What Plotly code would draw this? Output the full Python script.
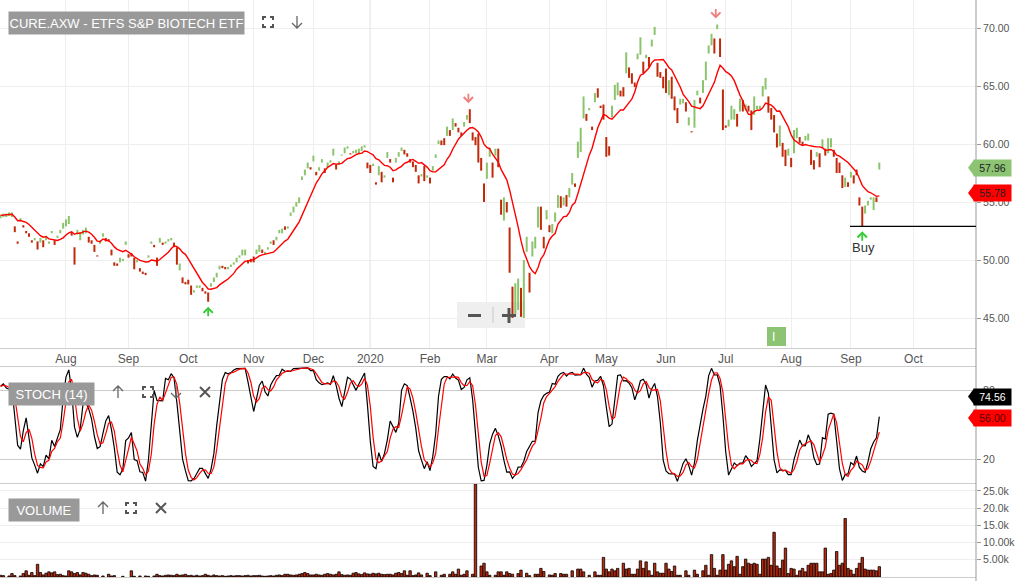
import pandas as pd
import plotly.graph_objects as go

# ---------------- calendar / axis labels ----------------
asx_holidays = ["2019-12-25", "2019-12-26", "2020-01-01", "2020-01-27",
                "2020-04-10", "2020-04-13", "2020-06-08"]
cal_start, cal_end = "2019-07-01", "2020-10-30"
tick_months = ["2019-08", "2019-09", "2019-10", "2019-11", "2019-12", "2020-01", "2020-02",
               "2020-03", "2020-04", "2020-05", "2020-06", "2020-07", "2020-08", "2020-09", "2020-10"]
tick_labels = ["Aug", "Sep", "Oct", "Nov", "Dec", "2020", "Feb", "Mar", "Apr", "May",
               "Jun", "Jul", "Aug", "Sep", "Oct"]

# ---------------- daily bars (one line per month) ----------------
lows = [
    53.6, 53.7, 53.7, 53.8, 53.7, 52.4, 51.4, 53.4, 52.8, 52.3, 52.0, 51.5, 51.7, 50.9, 51.5, 51.1, 51.7, 51.4, 52.3, 51.3, 51.9, 52.3, 52.7,
    52.9, 53.1, 52.1, 49.6, 52.2, 51.7, 52.2, 52.3, 51.5, 51.4, 50.7, 50.3, 51.4, 52.0, 51.6, 51.6, 50.4, 49.5, 49.5, 49.8, 49.9, 51.3,
    50.2, 50.3, 49.2, 49.8, 49.0, 48.8, 48.7, 50.2, 51.4, 51.1, 49.5, 51.5, 51.3, 51.4, 51.6, 51.7, 51.1, 49.6, 49.1, 48.0, 47.9,
    47.9, 47.0, 47.2, 47.6, 47.6, 47.3, 47.1, 46.4, 47.7, 48.1, 48.5, 49.2, 49.3, 49.2, 49.2, 49.4, 49.6, 49.8, 50.2, 50.4, 50.4, 49.7, 49.8,
    49.8, 50.5, 50.7, 50.6, 50.5, 50.9, 51.4, 51.3, 51.7, 52.3, 52.3, 52.6, 52.7, 53.8, 54.1, 54.6, 54.9, 56.9, 57.3, 57.9, 57.8,
    58.5, 57.3, 57.7, 58.4, 57.5, 58.0, 58.4, 59.0, 57.8, 58.2, 59.0, 59.2, 59.6, 59.1, 59.2, 59.2, 59.2, 59.4, 59.7, 57.9,
    57.5, 58.1, 56.5, 57.3, 56.7, 57.1, 58.8, 58.4, 56.7, 58.4, 58.9, 59.4, 59.1, 58.9, 58.4, 58.0, 57.6, 56.6, 57.2, 56.8, 57.1,
    56.6, 57.7, 58.8, 60.0, 59.9, 59.9, 60.7, 60.7, 61.2, 61.5, 61.0, 60.7, 61.5, 62.1, 61.8, 60.3, 59.9, 58.4, 57.7, 55.0,
    57.0, 58.9, 57.1, 59.0, 58.0, 53.9, 53.4, 54.1, 48.9, 45.0, 45.3, 45.7, 45.1, 45.0, 50.7, 47.2, 50.3, 51.0, 52.8, 52.6, 51.0, 53.5,
    52.4, 52.3, 53.3, 54.5, 54.5, 54.7, 54.6, 55.4, 56.5, 56.3, 58.8, 59.3, 62.2, 62.0, 62.9, 61.2, 63.6, 64.0, 63.1, 62.1,
    58.9, 59.0, 62.3, 63.8, 64.2, 64.1, 64.1, 66.1, 65.7, 65.2, 64.9, 67.3, 67.7, 66.1, 67.4, 66.6, 68.4, 69.4, 65.8, 65.7, 64.8,
    64.4, 64.2, 63.9, 62.9, 61.8, 63.4, 63.5, 62.8, 61.6, 61.0, 61.4, 64.2, 63.5, 64.4, 65.5, 67.8, 68.5, 67.8, 69.9, 67.5, 61.2,
    61.4, 61.5, 62.1, 62.1, 61.5, 62.8, 62.8, 62.9, 62.8, 61.2, 62.5, 63.0, 63.0, 64.1, 64.7, 62.7, 62.1, 61.0, 59.7, 59.8, 58.9, 58.1, 59.0,
    58.0, 59.2, 60.5, 60.1, 59.9, 60.3, 60.3, 58.2, 57.8, 58.9, 58.0, 59.7, 59.0, 59.2, 59.7, 58.9, 57.5, 57.5, 56.2, 56.3, 56.3,
    57.1, 56.6, 57.3, 54.7, 52.9, 54.0, 54.7, 55.2, 54.3, 55.0, 57.8,
]
highs = [
    53.9, 54.0, 54.0, 54.1, 54.1, 52.9, 51.6, 53.6, 53.0, 52.5, 52.3, 51.7, 51.9, 51.6, 51.9, 51.7, 52.0, 51.6, 52.5, 51.7, 52.1, 52.6, 53.2,
    53.5, 53.8, 52.4, 51.1, 52.6, 52.4, 52.6, 52.8, 52.0, 51.7, 51.3, 50.4, 51.7, 52.3, 51.9, 51.8, 50.9, 49.8, 49.7, 50.2, 50.1, 51.6,
    50.5, 50.6, 50.2, 50.0, 49.3, 49.0, 48.9, 50.4, 51.6, 51.3, 50.2, 51.9, 51.5, 51.6, 51.8, 51.9, 51.5, 51.1, 49.7, 48.5, 48.1,
    48.3, 47.8, 47.4, 47.8, 47.8, 47.6, 47.3, 47.2, 48.0, 48.5, 48.9, 49.5, 49.5, 49.4, 49.4, 49.6, 49.8, 50.2, 50.4, 50.9, 50.9, 50.0, 50.1,
    50.3, 50.9, 51.3, 50.9, 50.7, 51.1, 51.6, 51.7, 52.0, 52.6, 52.7, 52.9, 52.9, 54.1, 54.6, 55.0, 55.4, 57.2, 57.8, 58.4, 58.0,
    59.0, 57.6, 58.0, 58.7, 57.9, 58.4, 58.6, 59.6, 58.2, 58.5, 59.1, 59.7, 59.8, 59.2, 59.4, 59.5, 59.6, 59.8, 59.9, 58.4,
    58.2, 58.3, 56.7, 58.1, 57.6, 57.3, 59.3, 58.7, 57.1, 58.8, 59.3, 59.7, 59.5, 59.2, 58.7, 58.5, 58.2, 57.3, 57.4, 58.1, 57.3,
    57.1, 58.1, 59.1, 60.3, 60.3, 60.5, 61.5, 61.2, 62.2, 61.8, 61.4, 61.0, 61.9, 62.5, 63.0, 61.0, 60.6, 60.9, 58.8, 56.6,
    58.4, 59.7, 58.4, 59.6, 59.6, 55.2, 55.4, 55.0, 52.8, 47.7, 48.0, 48.4, 47.6, 50.0, 52.0, 48.9, 51.6, 52.0, 54.6, 54.6, 52.0, 54.3,
    53.0, 53.1, 54.1, 55.6, 55.5, 55.4, 55.6, 56.2, 57.5, 56.6, 60.2, 61.4, 64.1, 62.6, 63.1, 61.5, 64.4, 64.8, 63.3, 63.4,
    60.6, 59.8, 63.3, 65.1, 65.3, 64.6, 64.9, 67.9, 66.6, 66.1, 65.3, 67.8, 69.2, 67.1, 67.7, 67.5, 69.0, 70.1, 67.0, 66.2, 65.8,
    66.5, 65.5, 65.8, 64.1, 63.1, 63.9, 63.9, 63.6, 62.3, 61.1, 63.8, 64.6, 64.0, 65.5, 67.1, 68.5, 69.5, 69.1, 70.3, 69.1, 64.7,
    61.6, 62.1, 63.3, 63.0, 62.6, 63.9, 63.8, 63.4, 63.3, 62.9, 64.1, 63.3, 63.3, 65.0, 65.7, 64.1, 63.1, 62.5, 60.9, 61.6, 60.1, 59.5, 59.6,
    58.8, 61.2, 61.4, 60.6, 60.2, 60.7, 60.9, 59.5, 58.6, 59.3, 59.2, 60.4, 59.6, 60.5, 60.5, 59.5, 58.8, 58.4, 57.3, 57.1, 56.7,
    57.6, 57.3, 57.8, 55.4, 54.6, 54.7, 55.1, 55.4, 55.4, 55.4, 58.4,
]
closes = [
    53.85, 53.95, 53.9, 54.0, 54.05, 52.5, 51.45, 53.55, 52.85, 52.35, 52.05, 51.55, 51.85, 51.0, 51.85, 51.2, 51.95, 51.55, 52.45, 51.35, 52.05, 52.55, 53.15,
    53.45, 53.7, 52.15, 49.8, 52.55, 52.3, 52.55, 52.7, 51.6, 51.45, 50.8, 50.3, 51.65, 52.25, 51.65, 51.6, 50.45, 49.55, 49.5, 50.15, 50.05, 51.55,
    50.25, 50.35, 49.3, 49.95, 49.05, 48.85, 48.75, 50.35, 51.55, 51.15, 49.6, 51.85, 51.35, 51.55, 51.75, 51.85, 51.2, 49.7, 49.6, 48.1, 47.95,
    48.0, 47.1, 47.35, 47.75, 47.75, 47.35, 47.15, 46.5, 47.95, 48.45, 48.85, 49.45, 49.35, 49.25, 49.35, 49.55, 49.75, 50.15, 50.35, 50.85, 50.85, 49.75, 49.85,
    49.9, 50.85, 51.25, 50.65, 50.65, 51.05, 51.55, 51.35, 51.95, 52.55, 52.65, 52.65, 52.85, 54.05, 54.55, 54.95, 55.35, 57.15, 57.75, 58.35, 57.85,
    58.95, 57.35, 57.95, 58.65, 57.55, 58.35, 58.55, 59.55, 57.85, 58.45, 59.08, 59.65, 59.75, 59.12, 59.35, 59.45, 59.55, 59.75, 59.85, 57.95,
    57.6, 58.25, 56.55, 58.05, 56.8, 57.25, 59.25, 58.45, 56.75, 58.75, 59.25, 59.65, 59.15, 58.95, 58.45, 58.05, 57.65, 56.7, 57.35, 56.9, 57.25,
    56.65, 58.05, 59.05, 60.25, 59.95, 59.95, 61.45, 60.75, 62.1, 61.55, 61.05, 60.75, 61.85, 62.45, 61.9, 60.35, 59.95, 58.5, 57.8, 55.2,
    58.3, 59.6, 57.2, 59.5, 58.1, 54.0, 55.2, 54.2, 49.1, 45.3, 47.8, 48.2, 45.3, 49.8, 51.9, 47.4, 51.5, 51.9, 54.4, 52.8, 51.1, 54.2,
    52.5, 53.0, 54.0, 55.5, 54.6, 55.3, 54.7, 56.1, 57.4, 56.35, 60.1, 61.3, 64.0, 62.1, 63.05, 61.25, 64.3, 64.1, 63.15, 62.2,
    59.0, 59.1, 63.2, 65.0, 65.2, 64.2, 64.2, 67.8, 65.8, 65.3, 64.95, 67.75, 69.1, 66.2, 67.65, 66.7, 68.95, 70.0, 65.9, 65.75, 64.9,
    64.5, 65.4, 64.0, 63.0, 61.9, 63.85, 63.85, 62.9, 62.2, 61.0, 63.7, 64.55, 63.55, 65.4, 67.0, 68.45, 69.4, 67.9, 70.25, 67.6, 61.4,
    61.45, 62.05, 63.2, 62.9, 61.6, 63.8, 62.9, 63.35, 62.85, 61.3, 64.0, 63.25, 63.2, 64.95, 65.6, 62.8, 62.2, 61.1, 59.8, 61.5, 59.0, 58.2, 59.55,
    58.1, 61.1, 61.3, 60.15, 59.95, 60.65, 60.85, 58.3, 57.9, 59.25, 58.1, 60.35, 59.05, 60.4, 60.45, 58.95, 57.6, 57.55, 56.3, 57.05, 56.35,
    57.55, 56.7, 57.35, 54.8, 53.1, 54.65, 55.05, 55.35, 55.3, 55.05, 57.96,
]
bar_dirs = ("GGGGGRRGRRRRGRGRGGGRGGG" "GGRRGGGGRRRRGGRRRRRGGG" "RRRGRRRGGRRGRGGGRRGRR"
            "RRGGGRRRGGGGRRGGGGGGGRR" "RGGRGGGRGGGRGGGGGGGGR" "GRGGRGGGRGGGGRGGGGGR"
            "RGRGRGGRRGGGRRRRRRGRG" "RGGGRRGRGRRRGGRRRRRR" "GGRGRRGRRRGGRGGRGGGRRG"
            "RGGGRGRGGRGGGRGRGRRR" "RRGGGRRGRRRGGRGRGGRRR" "RGRRRGGRGRGGRGGGGRGRR"
            "RGGGRGRGRRGGGGGRRRRGRRG" "RGGRRGGRRGRGRGGRRRRGR" "GRRRRGGGGRG")
volume_k = [
    0.5, 0.4, 0, 0.3, 1.0, 0.4, 0, 0.3, 1.0, 1.8, 0.5, 1.3, 0.4, 3.7, 1.3, 0.6, 1.1, 1.5, 1.2, 1.5, 0.7, 0.8, 0.4,
    0.3, 1.8, 1.5, 1.0, 1.3, 0.6, 1.3, 1.1, 0.8, 0.4, 0.6, 0.5, 0, 0.3, 0, 0.8, 0.3, 0.4, 0, 0, 0.2, 0,
    0, 1.8, 0.2, 0, 0.3, 0, 0.3, 0.2, 0, 0.3, 0.8, 0.4, 0.3, 0.5, 0.6, 0.5, 0.4, 0.8, 0.5, 0.6, 0.8,
    0.4, 0.5, 0.3, 0.5, 0.3, 0.4, 0.8, 0.5, 0.3, 0.6, 0.4, 0.3, 0.4, 0.2, 0.3, 0.4, 0.3, 0.4, 0.4, 0.3, 0.4, 0.5, 0.3,
    0.4, 0.4, 0.5, 0.3, 0.2, 0.3, 0.4, 0.3, 0.5, 0.6, 0.4, 0.8, 0.8, 0.6, 0.5, 0.6, 0.8, 1.0, 1.3, 1.0, 0.6,
    0.6, 0.8, 0.6, 0.5, 0.8, 1.0, 0.8, 0.6, 0.8, 1.5, 0.7, 0.5, 0.6, 0.5, 1.1, 1.3, 0.9, 0.7, 1.2, 0.9,
    0.8, 1.1, 0.9, 1.1, 0.8, 0.7, 0.8, 0.8, 0.6, 1.1, 1.3, 1.0, 1.8, 0.5, 1.8, 0.4, 0.6, 1.2, 0.6, 0, 1.1,
    0.4, 0, 1.5, 0, 0.5, 0.8, 0, 0.8, 1.5, 0.8, 2.3, 0.5, 0.8, 1.8, 0, 0.8, 27.0, 0, 3.2, 4.0,
    1.5, 0.5, 0, 0.5, 1.5, 1.5, 0.5, 1.5, 1.0, 0.8, 0, 1.0, 2.0, 0, 1.1, 0.4, 0, 0.8, 0.8, 2.5, 1.6, 0,
    0.6, 0.5, 1.0, 0, 1.0, 0.8, 0.8, 0, 1.8, 0, 2.3, 2.3, 1.5, 0, 0.5, 0, 1.5, 0.5, 0.5, 5.7,
    2.3, 1.5, 2.3, 1.8, 2.5, 0, 4.0, 2.3, 2.5, 0.8, 0.8, 2.3, 4.7, 2.5, 4.4, 1.8, 0.5, 4.0, 1.5, 1.1, 1.1,
    4.0, 2.3, 1.6, 3.2, 0.5, 0.5, 0, 1.8, 0.5, 0, 2.0, 0.8, 0, 1.8, 3.4, 0.5, 6.5, 2.5, 0.5, 2.0, 6.5,
    2.0, 3.7, 4.7, 3.0, 6.0, 0.8, 3.0, 5.2, 4.0, 3.7, 4.0, 3.7, 0.8, 5.2, 5.2, 5.7, 3.4, 13.0, 3.2, 2.5, 4.9, 8.4, 1.0,
    2.5, 2.3, 0.5, 1.8, 2.5, 1.5, 3.4, 4.0, 4.0, 4.0, 1.5, 1.5, 8.4, 0.8, 1.0, 2.0, 7.4, 3.4, 4.0, 17.0, 2.5,
    2.0, 0.8, 2.5, 4.0, 5.7, 2.3, 2.0, 2.0, 2.0, 1.8, 3.0,
]

# signal markers (bar indices) and right-edge tags
buy_signals = [73, 303]
sell_signals = [165, 252]
buy_label_bar = 303
price_tags = [("57.96", 57.96, "#8cc474", "#222222"), ("55.78", 55.78, "#ff0000", "#222222")]
stoch_tags = [("74.56", 74.56, "#000000", "#ffffff"), ("56.00", 56.00, "#ff0000", "#5a0000")]
price_ticks = [45, 50, 55, 60, 65, 70]
vol_ticks = [5, 10, 15, 20, 25]
vol_tick_text = ["5.00k", "10.00k", "15.0k", "20.0k", "25.0k"]

# ---------------- derived series ----------------
n = len(closes)
xs = list(range(n))
days = pd.bdate_range(cal_start, cal_end, freq="C", holidays=asx_holidays)
ym = list(days.strftime("%Y-%m"))
tick_pos = [ym.index(m) for m in tick_months]

opens = [lo if d == "G" else hi for lo, hi, d in zip(lows, highs, bar_dirs)]
H, L, C = pd.Series(highs), pd.Series(lows), pd.Series(closes)
ma10 = C.rolling(10, min_periods=1).mean()
hh = H.rolling(14, min_periods=1).max()
ll = L.rolling(14, min_periods=1).min()
fast_k = 100 * (C - ll) / (hh - ll)
stoch_k = fast_k.rolling(3, min_periods=1).mean()
stoch_d = stoch_k.rolling(3, min_periods=1).mean()
vol_plot = [v if v > 0 else None for v in volume_k]

# ---------------- geometry (pixels) ----------------
W, H_PX = 1024, 581
PLOT_W = 976
X_RANGE = [-0.2, 343.0]
P_RANGE = [42.414, 72.414]
S_RANGE = [0, 100]
V_RANGE = [0, 27.03]


def X(px):
    return px / PLOT_W


def Y(py):
    return 1 - py / H_PX


def dom(top, bot):
    return [Y(bot), Y(top)]


P_DOM, S_DOM, V_DOM = dom(0, 348), dom(367, 483), dom(484, 577)


def frac(v, rng, d):
    return d[0] + (v - rng[0]) / (rng[1] - rng[0]) * (d[1] - d[0])


FONT = "Liberation Sans, Arial, sans-serif"
GREEN_BAR = "#8cc46e"
RED_BAR = "#c0290a"

fig = go.Figure()
fig.add_trace(go.Ohlc(x=xs, open=opens, high=highs, low=lows, close=closes,
                      xaxis="x", yaxis="y", tickwidth=0, line=dict(width=2),
                      increasing=dict(line=dict(color=GREEN_BAR, width=2)),
                      decreasing=dict(line=dict(color=RED_BAR, width=2)),
                      showlegend=False, hoverinfo="skip"))
fig.add_trace(go.Scatter(x=xs, y=ma10, mode="lines", line=dict(color="#ff0000", width=1.4),
                         xaxis="x", yaxis="y", showlegend=False, hoverinfo="skip"))
fig.add_trace(go.Scatter(x=xs, y=stoch_k, mode="lines", line=dict(color="#000000", width=1.2),
                         xaxis="x2", yaxis="y2", showlegend=False, hoverinfo="skip"))
fig.add_trace(go.Scatter(x=xs, y=stoch_d, mode="lines", line=dict(color="#ff0000", width=1.2),
                         xaxis="x2", yaxis="y2", showlegend=False, hoverinfo="skip"))
fig.add_trace(go.Bar(x=xs, y=vol_plot, width=0.85, marker=dict(color=RED_BAR, line=dict(color="#000000", width=0.8)),
                     xaxis="x3", yaxis="y3", showlegend=False, hoverinfo="skip"))

shapes = []
ann = []

# right axis line
shapes.append(dict(type="line", xref="paper", yref="paper", x0=1, x1=1, y0=0, y1=1,
                   line=dict(color="#999999", width=1)))
# darker year gridline
yr = tick_pos[tick_labels.index("2020")]
shapes.append(dict(type="line", xref="x", yref="paper", x0=yr, x1=yr, y0=P_DOM[0], y1=P_DOM[1],
                   line=dict(color="#cccccc", width=1), layer="below"))
# buy support line
shapes.append(dict(type="line", xref="x", yref="y", x0=buy_label_bar - 4.3, x1=X_RANGE[1],
                   y0=lows[buy_label_bar], y1=lows[buy_label_bar], line=dict(color="#000000", width=1.3)))

# zoom control box
shapes.append(dict(type="rect", xref="paper", yref="paper", x0=X(457), x1=X(525), y0=Y(328), y1=Y(302),
                   fillcolor="#efefef", line=dict(width=0), layer="below"))
shapes.append(dict(type="rect", xref="paper", yref="paper", x0=X(468), x1=X(481), y0=Y(317), y1=Y(314),
                   fillcolor="#555555", line=dict(width=0)))
shapes.append(dict(type="line", xref="paper", yref="paper", x0=X(493), x1=X(493), y0=Y(323), y1=Y(307),
                   line=dict(color="#c8c8c8", width=1)))
shapes.append(dict(type="rect", xref="paper", yref="paper", x0=X(502), x1=X(516), y0=Y(317), y1=Y(314),
                   fillcolor="#555555", line=dict(width=0)))
shapes.append(dict(type="rect", xref="paper", yref="paper", x0=X(507.5), x1=X(510.5), y0=Y(323), y1=Y(308),
                   fillcolor="#555555", line=dict(width=0)))
# green info box
shapes.append(dict(type="rect", xref="paper", yref="paper", x0=X(767), x1=X(786), y0=Y(346), y1=Y(327),
                   fillcolor="#8cc474", line=dict(width=0)))
ann.append(dict(xref="paper", yref="paper", x=X(776.5), y=Y(336.5), text="I", showarrow=False,
                font=dict(family=FONT, size=12, color="white")))


def icon(polylines, width=1.6, color="#555555"):
    parts = []
    for pl in polylines:
        pts = [f"{X(px):.6f},{Y(py):.6f}" for px, py in pl]
        parts.append("M" + " L".join(pts))
    shapes.append(dict(type="path", xref="paper", yref="paper", path=" ".join(parts),
                       line=dict(color=color, width=width)))


def fullscreen_icon(cx, cy):
    icon([[(cx - 5, cy - 2), (cx - 5, cy - 5), (cx - 2, cy - 5)],
          [(cx + 2, cy - 5), (cx + 5, cy - 5), (cx + 5, cy - 2)],
          [(cx + 5, cy + 2), (cx + 5, cy + 5), (cx + 2, cy + 5)],
          [(cx - 2, cy + 5), (cx - 5, cy + 5), (cx - 5, cy + 2)]], width=2)


def up_icon(cx, cy):
    icon([[(cx, cy + 6), (cx, cy - 6)], [(cx - 5, cy - 1), (cx, cy - 6), (cx + 5, cy - 1)]], width=1.3,
         color="#666666")


def down_icon(cx, cy):
    icon([[(cx, cy - 6), (cx, cy + 6)], [(cx - 5, cy + 1), (cx, cy + 6), (cx + 5, cy + 1)]], width=1.3,
         color="#666666")


def close_icon(cx, cy):
    icon([[(cx - 5, cy - 5), (cx + 5, cy + 5)], [(cx - 5, cy + 5), (cx + 5, cy - 5)]], width=2)


def label_box(x0, ytop, w, text):
    ann.append(dict(xref="paper", yref="paper", x=X(x0), y=Y(ytop), xanchor="left", yanchor="top",
                    text=text, showarrow=False, bgcolor="#999999", width=w, height=22, borderpad=0,
                    font=dict(family=FONT, size=13, color="white")))


label_box(8, 11, 235, "CURE.AXW - ETFS S&P BIOTECH ETF")
fullscreen_icon(268, 22)
down_icon(297, 22)
label_box(8, 382, 85, "STOCH (14)")
up_icon(118, 392)
fullscreen_icon(148, 392)
down_icon(176, 392)
close_icon(205, 392)
label_box(8, 498, 70, "VOLUME")
up_icon(103, 508)
fullscreen_icon(131, 508)
close_icon(161, 508)


def tag(text, value, rng, d, fill, tcolor):
    fy = frac(value, rng, d)
    shapes.append(dict(type="path", xref="paper", yref="paper", xsizemode="pixel", ysizemode="pixel",
                       xanchor=1, yanchor=fy, path="M-8,0 L-2,8 L-2,-8 Z",
                       fillcolor=fill, line=dict(width=0)))
    ann.append(dict(xref="paper", yref="paper", x=1, y=fy, xanchor="left", yanchor="middle", xshift=-3,
                    text=text, showarrow=False, bgcolor=fill, width=37, height=16, borderpad=0,
                    font=dict(family=FONT, size=10.5, color=tcolor)))


for t, v, f, c in price_tags:
    tag(t, v, P_RANGE, P_DOM, f, c)
for t, v, f, c in stoch_tags:
    tag(t, v, S_RANGE, S_DOM, f, c)

# signal arrows
for i in buy_signals:
    ann.append(dict(xref="x", yref="y", x=i, y=lows[i], yshift=-5, ax=0, ay=11, text="", showarrow=True,
                    arrowhead=4, arrowsize=1, arrowwidth=1.8, arrowcolor="#33cc33"))
for i in sell_signals:
    ann.append(dict(xref="x", yref="y", x=i - 0.5, y=highs[i], yshift=6, ax=0, ay=-11, text="", showarrow=True,
                    arrowhead=4, arrowsize=1, arrowwidth=1.8, arrowcolor="#f08080"))
ann.append(dict(xref="x", yref="y", x=buy_label_bar, y=lows[buy_label_bar], yshift=-21, xshift=1,
                text="Buy", showarrow=False, font=dict(family=FONT, size=13, color="#333333")))

axis_font = dict(family=FONT, size=10.5, color="#555555")
fig.update_layout(
    width=W, height=H_PX, margin=dict(l=0, r=W - PLOT_W, t=0, b=0),
    paper_bgcolor="white", plot_bgcolor="white", showlegend=False, hovermode=False,
    xaxis=dict(domain=[0, 1], range=X_RANGE, anchor="y", tickmode="array", tickvals=tick_pos,
               ticktext=tick_labels, showgrid=True, gridcolor="#eeeeee", showline=True,
               linecolor="#cccccc", ticks="", zeroline=False,
               tickfont=dict(family=FONT, size=12, color="#555555")),
    xaxis2=dict(domain=[0, 1], range=X_RANGE, anchor="y2", matches="x", showticklabels=False,
                showgrid=False, showline=True, mirror=True, linecolor="#cccccc", zeroline=False, ticks=""),
    xaxis3=dict(domain=[0, 1], range=X_RANGE, anchor="y3", matches="x", showticklabels=False,
                showgrid=False, showline=True, mirror=True, linecolor="#cccccc", zeroline=False, ticks=""),
    yaxis=dict(domain=P_DOM, range=P_RANGE, side="right", anchor="x", tickmode="array",
               tickvals=price_ticks, ticktext=[f"{t:.2f}" for t in price_ticks], gridcolor="#eeeeee",
               ticks="outside", ticklen=4, tickcolor="#999999", tickfont=axis_font, zeroline=False),
    yaxis2=dict(domain=S_DOM, range=S_RANGE, side="right", anchor="x2", tickmode="array",
                tickvals=[20, 80], ticktext=["20", "80"], gridcolor="#cccccc",
                ticks="outside", ticklen=4, tickcolor="#999999", tickfont=axis_font, zeroline=False),
    yaxis3=dict(domain=V_DOM, range=V_RANGE, side="right", anchor="x3", tickmode="array",
                tickvals=vol_ticks, ticktext=vol_tick_text, gridcolor="#eeeeee",
                ticks="outside", ticklen=4, tickcolor="#999999", tickfont=axis_font, zeroline=False),
    shapes=shapes, annotations=ann,
)
fig.update_xaxes(rangeslider_visible=False)

fig.write_html("out.html", config={"displayModeBar": False},
               post_script="document.body.style.margin='0';document.body.style.overflow='hidden';")
